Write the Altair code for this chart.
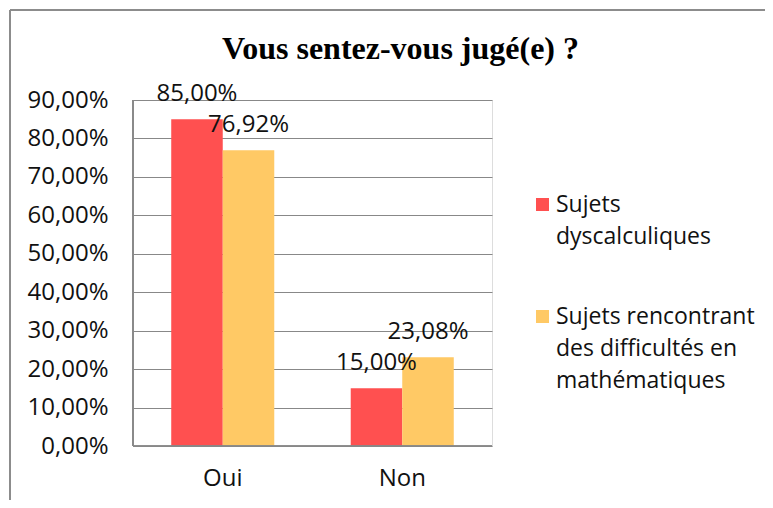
import altair as alt
import pandas as pd

categories = ["Oui", "Non"]
series = ["Sujets dyscalculiques", "Sujets rencontrant des difficultés en mathématiques"]
dyscalculiques = [0.85, 0.15]
difficultes = [0.7692, 0.2308]
y_ticks = [0, 0.1, 0.2, 0.3, 0.4, 0.5, 0.6, 0.7, 0.8, 0.9]

rows = []
for i, c in enumerate(categories):
    rows.append({"cat": c, "serie": series[0], "val": dyscalculiques[i]})
    rows.append({"cat": c, "serie": series[1], "val": difficultes[i]})
df = pd.DataFrame(rows)

FONT = "Open Sans"
FS = 24
colors = ["#FF5050", "#FFC965"]
GRID = "#888888"

x = alt.X("cat:N", sort=categories, title=None,
          scale=alt.Scale(paddingInner=0.426, paddingOuter=0.213),
          axis=alt.Axis(labelAngle=0, ticks=False, domain=False, grid=False, labelFontSize=FS,
                        labelFont=FONT, labelColor="#111", labelPadding=20))
y = alt.Y("val:Q", title=None,
          scale=alt.Scale(domain=[0, 0.9], nice=False),
          axis=alt.Axis(values=y_ticks, ticks=False, domain=False, gridColor=GRID,
                        gridWidth=1.2, labelFontSize=FS, labelFont=FONT, labelColor="#111",
                        labelPadding=25, labelOverlap=False, tickCount=10,
                        labelExpr="replace(format(datum.value, '.2%'), '.', ',')"))
xo = alt.XOffset("serie:N", sort=series, scale=alt.Scale(paddingInner=0, paddingOuter=0))

color = alt.Color("serie:N", sort=series,
                  scale=alt.Scale(domain=series, range=colors),
                  legend=alt.Legend(title=None, orient="none", legendX=398, legendY=93,
                                    symbolType="square", symbolSize=170, symbolStrokeWidth=0,
                                    labelFontSize=23, labelFont=FONT, labelColor="#111",
                                    labelLimit=300, rowPadding=56, labelOffset=2,
                                    labelBaseline="middle",
                                    labelExpr="datum.label == 'Sujets dyscalculiques' ? ['Sujets', 'dyscalculiques'] : ['Sujets rencontrant', 'des difficultés en', 'mathématiques']"))

bars = alt.Chart(df).mark_bar(width={"band": 1}).encode(
    x=x, y=y, color=color, xOffset=xo,
)

labels = alt.Chart(df).mark_text(
    dy=-13, baseline="bottom", fontSize=FS, font=FONT, color="#111"
).encode(
    x=x, xOffset=xo, y=y,
    text=alt.Text("label:N"),
).transform_calculate(
    label="replace(format(datum.val, '.2%'), '.', ',')"
)

axis_left = alt.Chart(df).mark_rule(color=GRID, strokeWidth=1.2).encode(
    x=alt.value(0), y=alt.value(0), y2=alt.value(346))
axis_bottom = alt.Chart(df).mark_rule(color=GRID, strokeWidth=1.2).encode(
    x=alt.value(0), x2=alt.value(359), y=alt.value(346))
frame = alt.Chart(df).mark_rule(color="#8c8c8c", strokeWidth=2).encode(
    x=alt.value(-123), y=alt.value(-90), y2=alt.value(420))
frame_top = alt.Chart(df).mark_rule(color="#8c8c8c", strokeWidth=2).encode(
    x=alt.value(-123), x2=alt.value(700), y=alt.value(-90))

chart = alt.layer(bars, labels, axis_left, axis_bottom, frame, frame_top).properties(
    width=359, height=346,
    autosize=alt.AutoSizeParams(type="none"),
    padding={"left": 125, "top": 92, "right": 273, "bottom": 54},
    title=alt.TitleParams("Vous sentez-vous jugé(e) ?", font="Liberation Serif", fontSize=32,
                          fontWeight="bold", color="#000", anchor="middle", dx=88,
                          baseline="alphabetic", offset=-82),
).configure_view(stroke=None).configure_axisX(grid=False).configure(
    background="white", style={"guide-label": {"lineHeight": 32}})

chart.save("out.html", embed_options={"renderer": "svg", "actions": False})
